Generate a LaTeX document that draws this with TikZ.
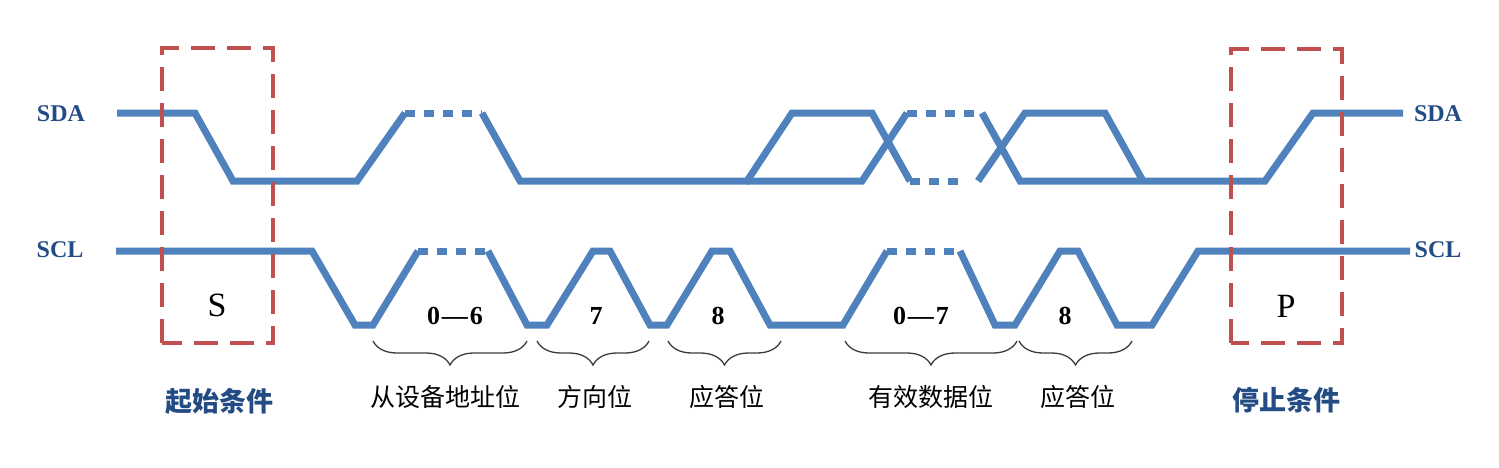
\documentclass[tikz,border=0pt]{standalone}
\usepackage{fontspec}
\setmainfont{Liberation Serif}
\newfontfamily\cjkfont{Noto Sans CJK SC}
\usetikzlibrary{decorations.pathreplacing}
\definecolor{sigblue}{HTML}{4F81BD}
\definecolor{boxred}{HTML}{C0504D}
\definecolor{lblblue}{RGB}{36,76,132}
\definecolor{bracegray}{RGB}{60,60,60}
\begin{document}
\begin{tikzpicture}[x=1pt,y=-1pt,
  sig/.style={draw=sigblue, line width=7pt, line join=miter},
  dotseg/.style={sig, dash pattern=on 10pt off 9pt},
  condbox/.style={draw=boxred, line width=4.5pt, dash pattern=on 24pt off 12pt},
  siglbl/.style={font=\fontsize{24}{24}\selectfont\bfseries, text=lblblue, inner sep=0pt},
  bitlbl/.style={font=\fontsize{26}{26}\selectfont\bfseries, inner sep=0pt},
  condlbl/.style={font=\fontsize{34}{34}\selectfont, inner sep=0pt},
  cnlbl/.style={font=\cjkfont\fontsize{25}{25}\selectfont, inner sep=0pt},
  cnbold/.style={font=\cjkfont\bfseries\fontsize{27}{27}\selectfont, text=lblblue, inner sep=0pt},
  brc/.style={draw=bracegray, line width=1.3pt, decorate, decoration={brace, mirror, amplitude=24pt}}
]
\useasboundingbox (0,0) rectangle (1499,467);

% signal labels
\node[siglbl] (sdaL) at (61,114) {SDA};
\node[siglbl] (sclL) at (60,250) {SCL};
\node[siglbl] (sdaR) at (1438,114) {SDA};
\node[siglbl] (sclR) at (1438,250) {SCL};

% SDA
\draw[sig] (117,113) -- (195,113) -- (233,181) -- (357,181) -- (405,113);
\draw[dotseg] (405,113) -- (482,113);
\draw[sig] (482,113) -- (520,181) -- (747,181) -- (792,113) -- (872,113) -- (910,181);
\draw[dotseg] (910,181) -- (967,181);
\draw[sig] (747,181) -- (862,181) -- (907,113);
\draw[dotseg] (907,113) -- (983,113);
\draw[sig] (978,181) -- (1025,113) -- (1105,113) -- (1143,181);
\draw[sig] (982,113) -- (1020,181) -- (1265,181) -- (1313,113) -- (1403,113);

% SCL
\draw[sig] (116,251) -- (312,251) -- (355,325) -- (373,325) -- (418,251);
\draw[dotseg] (418,251) -- (488,251);
\draw[sig] (488,251) -- (527,325) -- (547,325) -- (593,251) -- (610,251) -- (650,325) -- (667,325)
  -- (712,251) -- (730,251) -- (770,325) -- (843,325) -- (887,251);
\draw[dotseg] (887,251) -- (960,251);
\draw[sig] (960,251) -- (995,325) -- (1015,325) -- (1060,251) -- (1078,251) -- (1117,325)
  -- (1152,325) -- (1198,251) -- (1410,251);

% condition boxes
\draw[condbox] (162,343) rectangle (273,48);
\draw[condbox] (1231,343) rectangle (1342,49);
\node[condlbl] (S) at (217,305) {S};
\node[condlbl] (P) at (1286,306) {P};

% bit labels
\node[bitlbl] (b06) at (455,316) {0\kern2pt—\kern2pt6};
\node[bitlbl] (b7) at (596,316) {7};
\node[bitlbl] (b8a) at (718,316) {8};
\node[bitlbl] (b07) at (921,316) {0\kern2pt—\kern2pt7};
\node[bitlbl] (b8b) at (1065,316) {8};

% braces
\draw[brc] (373,341) -- (527,341);
\draw[brc] (537,341) -- (649,341);
\draw[brc] (668,341) -- (781,341);
\draw[brc] (845,341) -- (1017,341);
\draw[brc] (1019,341) -- (1132,341);

% field labels
\node[cnbold] (start) at (219,401) {起始条件};
\node[cnlbl] (addr) at (445,397) {从设备地址位};
\node[cnlbl] (dir) at (595,397) {方向位};
\node[cnlbl] (acka) at (727,397) {应答位};
\node[cnlbl] (data) at (931,397) {有效数据位};
\node[cnlbl] (ackb) at (1078,397) {应答位};
\node[cnbold] (stop) at (1286,400) {停止条件};
\end{tikzpicture}
\end{document}
